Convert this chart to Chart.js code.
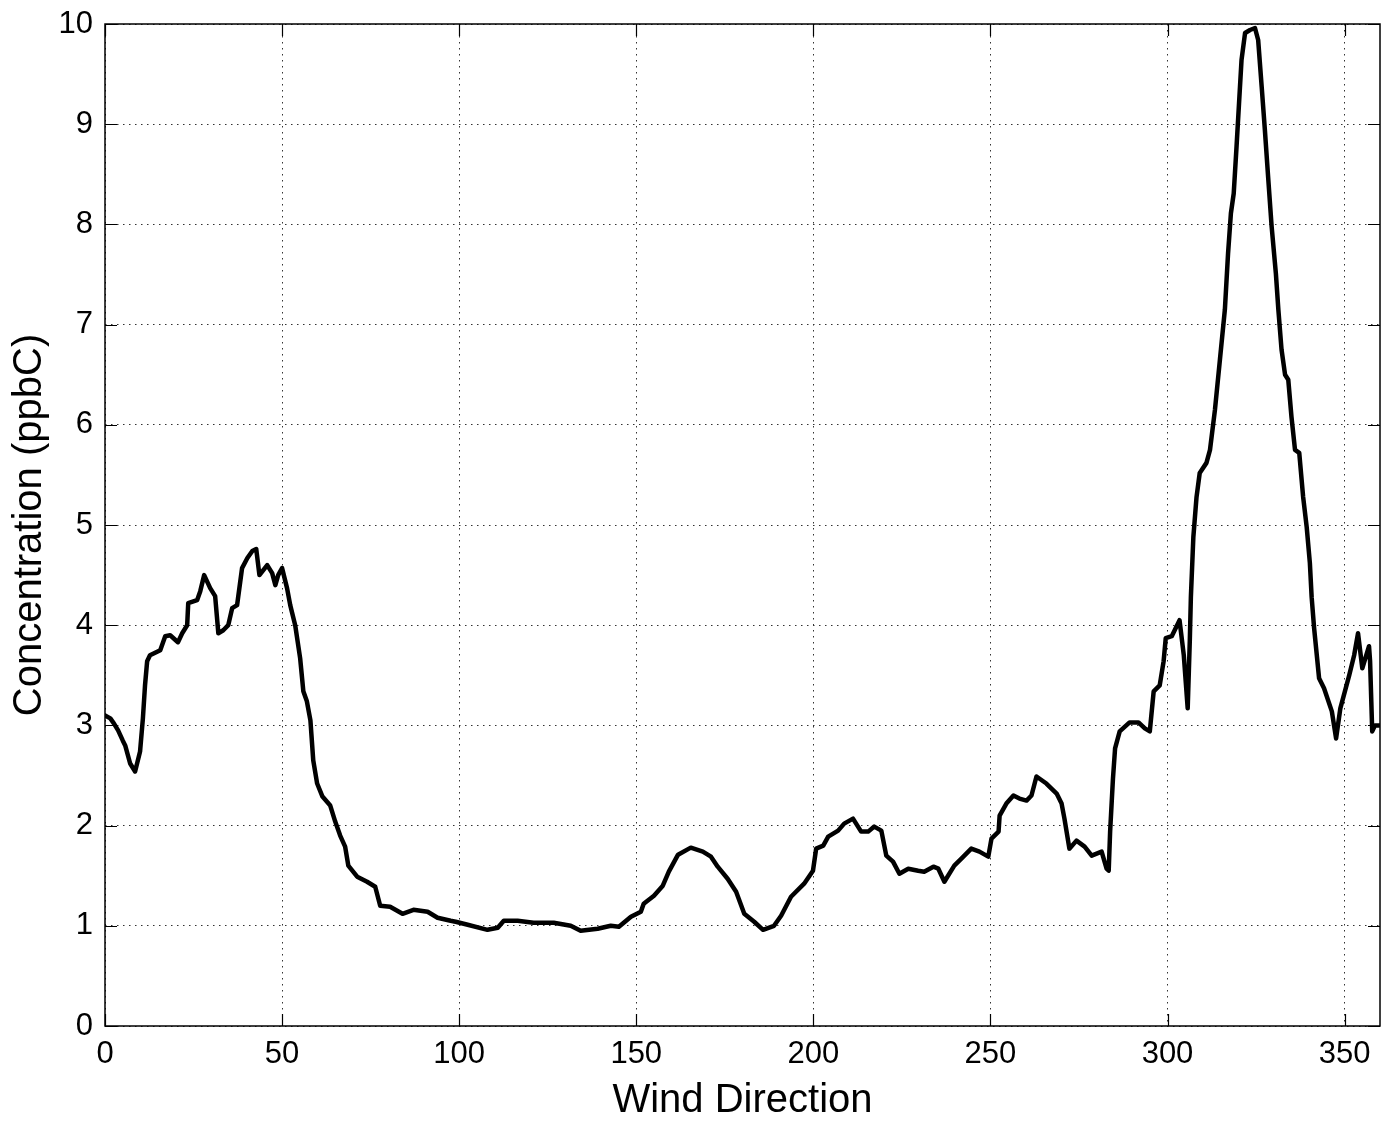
<!DOCTYPE html>
<html>
<head>
<meta charset="utf-8">
<script src="https://cdn.jsdelivr.net/npm/chart.js@4/dist/chart.umd.min.js"></script>
<style>
    html, body { margin: 0; padding: 0; background: #fff; }
    #wrap { width: 1382px; height: 1123px; }
</style>
</head>
<body>
<div id="wrap"><canvas id="chart" width="1382" height="1123"></canvas></div>
<script>
// wind direction (deg) and concentration (ppbC)
const windDir = [
    0, 1.5, 2.5, 3.7, 5.0, 5.7, 7.1, 8.5, 9.9, 10.7, 11.3, 11.9, 12.7, 15.6, 17.0, 18.4, 20.6, 21.8, 23.2, 23.5,
    26.0, 26.9, 28.0, 29.7, 31.1, 32.0, 33.4, 34.8, 35.9, 37.3, 38.7, 40.2, 41.6, 42.7, 43.6, 45.8, 47.2, 48.1, 48.9, 50.0,
    51.4, 52.3, 53.7, 55.1, 56.0, 57.0, 58.0, 58.8, 59.9, 61.4, 63.6, 65.0, 66.4, 67.8, 68.7, 71.2, 74.0, 76.3, 77.7, 80.5,
    84.0, 87.1, 91.1, 93.9, 97.6, 99.0, 102.4, 108.0, 110.9, 112.6, 116.5, 121.0, 126.7, 131.5, 134.3, 139.1, 142.8, 145.1, 148.5, 151.3,
    152.1, 155.0, 157.5, 159.2, 161.8, 165.4, 168.8, 171.1, 173.0, 175.8, 178.2, 180.5, 183.3, 185.8, 188.9, 190.9, 193.7, 197.4, 199.9, 200.8,
    202.8, 204.2, 207.0, 208.7, 211.2, 213.5, 215.5, 217.2, 219.2, 220.6, 222.5, 224.3, 226.8, 229.6, 231.3, 233.9, 235.3, 237.0, 239.8, 241.8,
    244.6, 246.9, 249.4, 250.3, 252.3, 252.6, 254.5, 256.5, 258.2, 260.2, 261.6, 263.0, 265.8, 268.7, 270.1, 270.9, 272.3, 274.3, 276.6, 278.6,
    281.4, 282.8, 283.4, 283.8, 284.6, 285.2, 286.5, 289.3, 291.8, 293.6, 295.0, 296.1, 297.8, 298.9, 299.5, 301.2, 303.4, 304.6, 305.7, 306.3,
    306.6, 307.3, 308.2, 309.1, 311.0, 312.0, 313.4, 314.8, 316.2, 317.1, 317.9, 318.7, 319.5, 320.2, 320.9, 321.9, 323.3, 324.7, 325.6, 326.6,
    327.5, 328.4, 329.4, 330.6, 331.3, 332.2, 333.2, 334.1, 335.0, 336.0, 337.2, 338.3, 339.3, 340.2, 340.7, 341.4, 342.8, 344.2, 346.4, 347.6,
    348.8, 351.3, 352.7, 353.8, 355.0, 356.9, 357.2, 357.8, 358.6, 359.7
];
const concentration = [
    3.10, 3.07, 3.02, 2.95, 2.85, 2.80, 2.62, 2.54, 2.74, 3.07, 3.40, 3.64, 3.70, 3.75, 3.89, 3.90, 3.83, 3.92, 4.00, 4.22,
    4.25, 4.34, 4.50, 4.37, 4.29, 3.92, 3.95, 4.00, 4.17, 4.20, 4.57, 4.67, 4.74, 4.76, 4.50, 4.60, 4.52, 4.40, 4.50, 4.57,
    4.37, 4.20, 4.00, 3.67, 3.34, 3.24, 3.05, 2.65, 2.42, 2.29, 2.20, 2.04, 1.90, 1.79, 1.60, 1.49, 1.44, 1.39, 1.20, 1.19,
    1.12, 1.16, 1.14, 1.08, 1.05, 1.04, 1.01, 0.96, 0.98, 1.05, 1.05, 1.03, 1.03, 1.00, 0.95, 0.97, 1.00, 0.99, 1.09, 1.14,
    1.22, 1.30, 1.40, 1.54, 1.71, 1.78, 1.74, 1.69, 1.59, 1.47, 1.34, 1.12, 1.04, 0.96, 1.00, 1.10, 1.29, 1.42, 1.55, 1.77,
    1.80, 1.89, 1.95, 2.02, 2.07, 1.94, 1.94, 1.99, 1.95, 1.70, 1.64, 1.52, 1.57, 1.55, 1.54, 1.59, 1.57, 1.44, 1.60, 1.67,
    1.77, 1.74, 1.69, 1.87, 1.94, 2.10, 2.22, 2.30, 2.27, 2.25, 2.30, 2.49, 2.42, 2.32, 2.22, 2.07, 1.77, 1.85, 1.79, 1.70,
    1.74, 1.57, 1.55, 1.94, 2.47, 2.77, 2.94, 3.03, 3.03, 2.97, 2.94, 3.34, 3.40, 3.64, 3.87, 3.89, 4.05, 3.70, 3.17, 3.85,
    4.28, 4.88, 5.28, 5.52, 5.62, 5.75, 6.15, 6.65, 7.15, 7.71, 8.11, 8.31, 8.78, 9.21, 9.64, 9.91, 9.94, 9.96, 9.84, 9.37,
    8.94, 8.48, 7.98, 7.51, 7.15, 6.75, 6.50, 6.45, 6.08, 5.75, 5.72, 5.28, 4.98, 4.62, 4.28, 3.97, 3.47, 3.37, 3.14, 2.87,
    3.17, 3.50, 3.70, 3.92, 3.57, 3.79, 3.64, 2.94, 3.00, 3.00
];
const xTicks = [0, 50, 100, 150, 200, 250, 300, 350];
const yTicks = [0, 1, 2, 3, 4, 5, 6, 7, 8, 9, 10];

const fontFamily = "'Liberation Sans', Arial, Helvetica, sans-serif";

// MATLAB style box: solid frame plus inward tick marks on all four sides
const boxPlugin = {
    id: 'matlabBox',
    afterDraw(chart) {
        const { ctx, chartArea: a, scales } = chart;
        const len = 12;
        ctx.save();
        ctx.strokeStyle = '#000';
        ctx.lineWidth = 1.5;
        ctx.strokeRect(a.left, a.top, a.right - a.left, a.bottom - a.top);
        ctx.beginPath();
        xTicks.forEach(v => {
            const px = Math.round(scales.x.getPixelForValue(v)) + 0.5;
            ctx.moveTo(px, a.bottom); ctx.lineTo(px, a.bottom - len);
            ctx.moveTo(px, a.top); ctx.lineTo(px, a.top + len);
        });
        yTicks.forEach(v => {
            const py = Math.round(scales.y.getPixelForValue(v)) + 0.5;
            ctx.moveTo(a.left, py); ctx.lineTo(a.left + len, py);
            ctx.moveTo(a.right, py); ctx.lineTo(a.right - len, py);
        });
        ctx.lineWidth = 1.2;
        ctx.stroke();
        ctx.restore();
    }
};

new Chart(document.getElementById('chart'), {
    type: 'line',
    data: {
        datasets: [{
            data: windDir.map((d, i) => ({ x: d, y: concentration[i] })),
            borderColor: '#000',
            borderWidth: 4.5,
            borderJoinStyle: 'round',
            borderCapStyle: 'round',
            pointRadius: 0,
            tension: 0,
            fill: false
        }]
    },
    options: {
        responsive: false,
        animation: false,
        devicePixelRatio: 1,
        layout: { padding: { top: 24, right: 2, left: 0, bottom: 0 } },
        plugins: {
            legend: { display: false },
            tooltip: { enabled: false }
        },
        scales: {
            x: {
                type: 'linear',
                min: 0,
                max: 360,
                afterBuildTicks: (scale) => { scale.ticks = xTicks.map(v => ({ value: v })); },
                afterFit: (scale) => { scale.height = 97; },
                grid: { color: '#333', lineWidth: 1, drawTicks: false },
                border: { display: false, dash: [1.5, 4.5] },
                ticks: {
                    color: '#000',
                    padding: 10,
                    maxRotation: 0,
                    font: { family: fontFamily, size: 31 }
                },
                title: {
                    display: true,
                    text: 'Wind Direction',
                    color: '#000',
                    font: { family: fontFamily, size: 40, lineHeight: 1.1 },
                    padding: { top: 0, bottom: 0 }
                }
            },
            y: {
                type: 'linear',
                min: 0,
                max: 10,
                afterBuildTicks: (scale) => { scale.ticks = yTicks.map(v => ({ value: v })); },
                afterFit: (scale) => {
                    scale.width = 105;
                    scale.paddingTop = 0;
                    scale.paddingBottom = 0;
                },
                grid: { color: '#333', lineWidth: 1, drawTicks: false },
                border: { display: false, dash: [1.5, 4.5] },
                ticks: {
                    color: '#000',
                    padding: 12,
                    font: { family: fontFamily, size: 31 }
                },
                title: {
                    display: true,
                    text: 'Concentration (ppbC)',
                    color: '#000',
                    font: { family: fontFamily, size: 40, lineHeight: 1.1 },
                    padding: { top: 8, bottom: 0 }
                }
            }
        }
    },
    plugins: [boxPlugin]
});
</script>
</body>
</html>
